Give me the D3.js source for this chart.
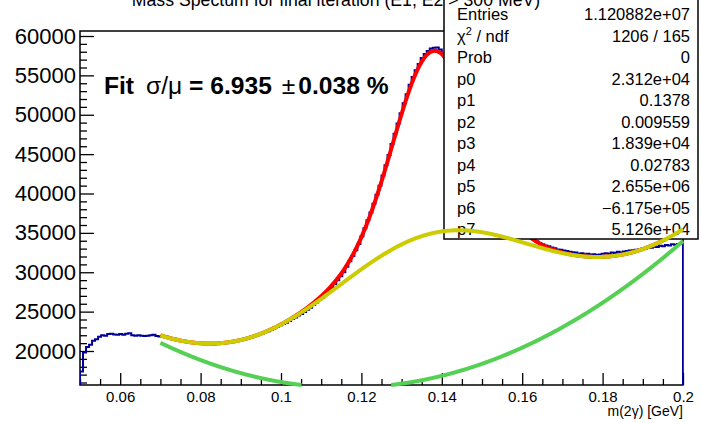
<!DOCTYPE html>
<html><head><meta charset="utf-8">
<script src="https://cdn.jsdelivr.net/npm/d3@7"></script>
<style>body{margin:0;background:#fff}svg{display:block}text{font-family:"Liberation Sans",Arial,Helvetica,sans-serif;fill:#000}</style>
</head><body><svg id="c" width="701" height="423"></svg>
<script>
// ---------------- data ----------------
const binLow = 0.05, binWidth = 0.00075;
const counts = [
17400,19800,20500,20800,21300,21500,21800,22000,21950,22150,22200,22100,22050,22150,22050,22200,22250,22000,21950,22000,21950,21900,21950,22000,22050,21900,21850,
21900,21850,21750,21600,21550,21380,21300,21250,21180,21150,21050,21000,21020,
20950,20900,20980,20920,20870,21000,20960,21050,21020,21100,21200,21250,21300,
21420,21450,21600,21700,21870,21950,22150,22250,22400,22520,22700,22900,23080,23270,
23420,23600,23800,24050,24250,24500,24700,24950,25250,25500,25850,26150,26500,
26800,27200,27600,28000,28500,29000,29500,30000,30700,31400,32050,32800,33600,
34550,35600,36600,37600,38700,39850,41000,42300,43600,44900,46300,47600,48900,50200,
51450,52600,53800,54800,55650,56450,57200,57700,58100,58400,58500,58550,58300,57800,
57300,56700,56000,55000,54100,53000,51900,50800,49700,48500,47400,46300,
45100,44100,43100,42050,41200,40300,39500,38750,38100,37500,36900,36400,35950,35500,
35100,34800,34450,34200,33950,33700,33550,33400,33300,33150,33050,32900,32850,
32750,32700,32600,32550,32500,32350,32400,32300,32350,32250,32300,32200,32250,
32350,32400,32350,32500,32450,32600,32500,32650,32700,32750,32800,32850,32900,33000,
33000,33150,33100,33250,33200,33350,33300,33450,33400,33550,33500,33600,33650
];
const fitParams = [2.312e4, 0.1378, 0.009559, 1.839e4, 0.02783, 2.655e6, -6.175e5, 5.126e4];
const fitRange = [0.07, 0.2];
const statLabels = ["Entries", "CHI2", "Prob", "p0", "p1", "p2", "p3", "p4", "p5", "p6", "p7"];
const statValues = ["1.120882e+07", "1206 / 165", "0", "2.312e+04", "0.1378", "0.009559", "1.839e+04", "0.02783", "2.655e+06", "\u22126.175e+05", "5.126e+04"];
const yTicks = [20000, 25000, 30000, 35000, 40000, 45000, 50000, 55000, 60000];
const yTickLabels = ["20000", "25000", "30000", "35000", "40000", "45000", "50000", "55000", "60000"];
const xTicks = [0.06, 0.08, 0.1, 0.12, 0.14, 0.16, 0.18, 0.2];
const xTickLabels = ["0.06", "0.08", "0.1", "0.12", "0.14", "0.16", "0.18", "0.2"];
const titleText = "Mass Spectum for final iteration (E1, E2 > 300 MeV)";
const xTitle = "m(2\u03b3) [GeV]";

// ---------------- layout ----------------
const L = 80, R = 683, T = 31, B = 385;
const svg = d3.select("#c");
const x = d3.scaleLinear().domain([0.05, 0.2]).range([L, R]);
const y = d3.scaleLinear().domain([15683, 60635]).range([B, T]);
const yMin = y.domain()[0];

svg.append("defs").append("clipPath").attr("id", "frame")
  .append("rect").attr("x", L).attr("y", T).attr("width", R - L).attr("height", B - T);

// frame
svg.append("rect").attr("x", L).attr("y", T).attr("width", R - L).attr("height", B - T)
  .attr("fill", "none").attr("stroke", "#000").attr("stroke-width", 1.5);

// axes
const yMinor = d3.range(16000, 60001, 1000).filter(v => v % 5000 !== 0);
const xMinor = d3.range(0, 31).map(i => 0.05 + i * 0.005).filter(v => !xTicks.some(t => Math.abs(t - v) < 1e-9));

function styleAxis(g) {
  g.select(".domain").remove();
  g.selectAll(".tick line").attr("stroke", "#000").attr("stroke-width", 1.3);
}
svg.append("g").attr("transform", `translate(${L},0)`)
  .call(d3.axisLeft(y).tickValues(yMinor).tickSize(-7).tickFormat(""))
  .call(styleAxis);
svg.append("g").attr("transform", `translate(${L},0)`)
  .call(d3.axisLeft(y).tickValues(yTicks).tickSize(-14).tickPadding(4).tickFormat((d, i) => yTickLabels[i]))
  .call(styleAxis)
  .selectAll("text").attr("font-size", 22).attr("fill", "#000");
svg.append("g").attr("transform", `translate(0,${B})`)
  .call(d3.axisBottom(x).tickValues(xMinor).tickSize(-6).tickFormat(""))
  .call(styleAxis);
svg.append("g").attr("transform", `translate(0,${B})`)
  .call(d3.axisBottom(x).tickValues(xTicks).tickSize(-12).tickPadding(6).tickFormat((d, i) => xTickLabels[i]))
  .call(styleAxis)
  .selectAll("text").attr("font-size", 15).attr("fill", "#000");

svg.append("text").attr("x", R).attr("y", 416).attr("text-anchor", "end")
  .attr("font-size", 14).text(xTitle);

// histogram outline
const plot = svg.append("g").attr("clip-path", "url(#frame)");
const pts = [[binLow, yMin - 1000]];
counts.forEach((c, i) => {
  pts.push([binLow + i * binWidth, c]);
  pts.push([binLow + (i + 1) * binWidth, c]);
});
pts.push([binLow + counts.length * binWidth, yMin - 1000]);
const line = d3.line().x(d => x(d[0])).y(d => y(d[1]));
plot.append("path").attr("d", line(pts)).attr("fill", "none")
  .attr("stroke", "#000099").attr("stroke-width", 2);

// fit model
const [p0, p1, p2, p3, p4, p5, p6, p7] = fitParams;
const pol2 = v => p5 * v * v + p6 * v + p7;
const wide = v => p3 * Math.exp(-0.5 * ((v - p1) / p4) ** 2);
const peak = v => p0 * Math.exp(-0.5 * ((v - p1) / p2) ** 2);
const xs = d3.range(0, 1201).map(i => fitRange[0] + (fitRange[1] - fitRange[0]) * i / 1200);
// geometry clipped at the frame bottom (ROOT style), so the stroke may overhang the axis
const curve = f => d3.line().defined(v => f(v) >= yMin).x(v => x(v)).y(v => y(f(v)))(xs);

plot.append("path").attr("d", curve(v => peak(v) + wide(v) + pol2(v)))
  .attr("fill", "none").attr("stroke", "#ff0000").attr("stroke-width", 4);

// stats box
const sb = svg.append("g");
sb.append("rect").attr("x", 444).attr("y", -2).attr("width", 254).attr("height", 241)
  .attr("fill", "#fff").attr("stroke", "#000").attr("stroke-width", 1.5);
statLabels.forEach((lab, i) => {
  const yy = 20 + i * 21.5;
  const t = sb.append("text").attr("x", 457).attr("y", yy).attr("font-size", 16.5);
  if (lab === "CHI2") {
    t.append("tspan").text("\u03c7");
    t.append("tspan").attr("dy", -7).attr("font-size", 11).text("2");
    t.append("tspan").attr("dy", 7).text(" / ndf");
  } else t.text(lab);
  sb.append("text").attr("x", 690).attr("y", yy).attr("text-anchor", "end")
    .attr("font-size", 16.5).text(statValues[i]);
});

// title
svg.append("text").attr("x", 336).attr("y", 6).attr("text-anchor", "middle")
  .attr("font-size", 17.7).text(titleText);

// background components over the box
svg.append("path").attr("d", curve(v => wide(v) + pol2(v)))
  .attr("fill", "none").attr("stroke", "#cccc00").attr("stroke-width", 4);
svg.append("path").attr("d", curve(pol2))
  .attr("fill", "none").attr("stroke", "#55d055").attr("stroke-width", 4);

// fit annotation
const ft = svg.append("text").attr("x", 104).attr("y", 94).attr("font-size", 24.6).attr("font-weight", "bold");
ft.append("tspan").text("Fit");
ft.append("tspan").attr("dx", 12).attr("font-weight", "normal").text("\u03c3/\u03bc");
ft.append("tspan").text(" = 6.935");
ft.append("tspan").attr("dx", 10).attr("font-weight", "normal").text("\u00b1");
ft.append("tspan").attr("dx", 3).text("0.038 %");
</script></body></html>
